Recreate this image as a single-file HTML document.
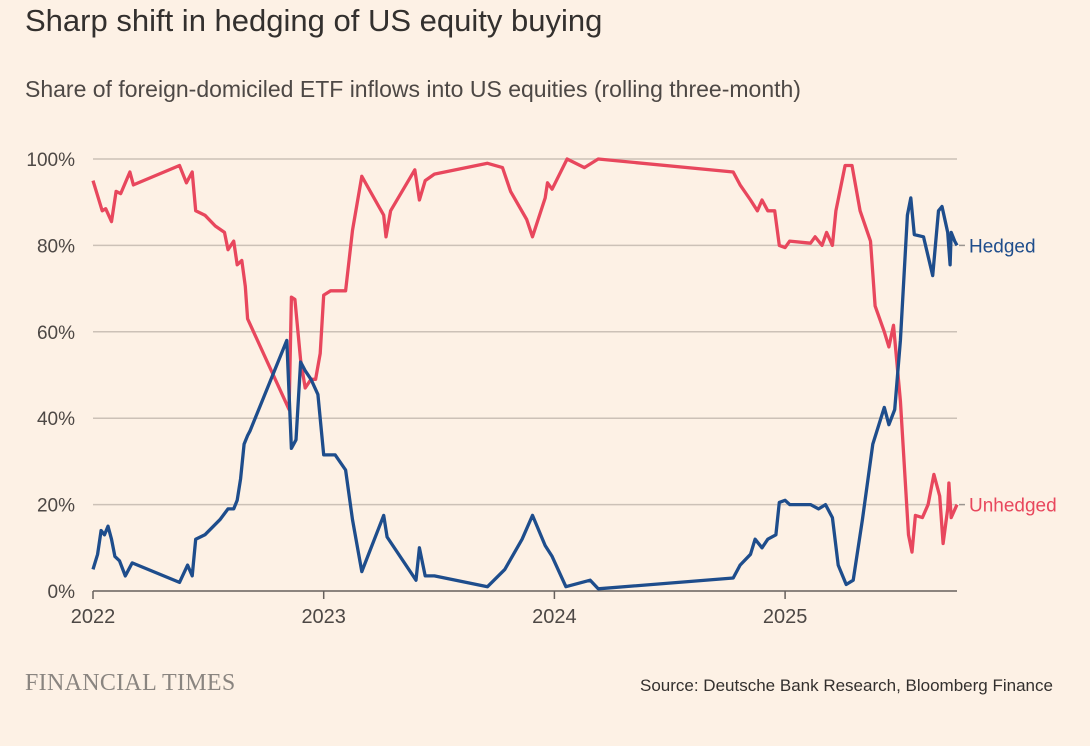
<!DOCTYPE html>
<html><head><meta charset="utf-8"><style>
html,body{margin:0;padding:0;background:#fdf1e5;}
body{width:1090px;height:746px;overflow:hidden;position:relative;font-family:"Liberation Sans",sans-serif;}
.t{position:absolute;white-space:nowrap;}
</style></head><body>
<div class="t" style="left:25px;top:3px;font-size:31px;color:#33302e;">Sharp shift in hedging of US equity buying</div>
<div class="t" style="left:25px;top:76px;font-size:23px;color:#4d4845;">Share of foreign-domiciled ETF inflows into US equities (rolling three-month)</div>
<svg id="chart" width="1090" height="746" style="position:absolute;left:0;top:0;"></svg>
<div class="t" style="left:25px;top:670px;font-size:24px;font-family:'Liberation Serif',serif;color:#8a8580;letter-spacing:0.3px;">FINANCIAL TIMES</div>
<div class="t" style="left:640px;top:676px;font-size:17px;color:#33302e;">Source: Deutsche Bank Research, Bloomberg Finance</div>
<script>
const yTicks=[0,20,40,60,80,100];
const yTickLabels=["0%","20%","40%","60%","80%","100%"];
const xTicks=[2022,2023,2024,2025];
const hedgedT=[2022.00,2022.02,2022.035,2022.05,2022.065,2022.08,2022.095,2022.115,2022.14,2022.17,2022.375,2022.41,2022.43,2022.445,2022.485,2022.55,2022.585,2022.61,2022.625,2022.64,2022.655,2022.67,2022.68,2022.84,2022.86,2022.88,2022.9,2022.92,2022.945,2022.975,2023.0,2023.05,2023.095,2023.125,2023.165,2023.26,2023.275,2023.40,2023.415,2023.44,2023.48,2023.71,2023.785,2023.86,2023.905,2023.96,2023.99,2024.05,2024.155,2024.19,2024.775,2024.805,2024.85,2024.87,2024.9,2024.925,2024.96,2024.975,2025.0,2025.02,2025.11,2025.145,2025.175,2025.205,2025.23,2025.265,2025.295,2025.335,2025.38,2025.43,2025.45,2025.475,2025.5,2025.53,2025.545,2025.56,2025.6,2025.64,2025.665,2025.68,2025.705,2025.715,2025.72,2025.735,2025.745];
const hedgedV=[5,8.5,14,13,15,12,8,7,3.5,6.5,2,6,3.5,12,13,16.5,19,19,21,26,34,36,37,58,33,35,53,51,49,45.5,31.5,31.5,28,16.5,4.5,17.5,12.5,2.5,10,3.5,3.5,1,5,12,17.5,10.5,8,1,2.5,0.5,3,6,8.5,12,10,12,13,20.5,21,20,20,19,20,17,6,1.5,2.5,16.5,34,42.5,38.5,42,58,87,91,82.5,82,73,88,89,83,75.5,83,81,80];
const unhedgedT=[2022.0,2022.02,2022.04,2022.055,2022.08,2022.1,2022.12,2022.16,2022.175,2022.375,2022.405,2022.43,2022.445,2022.485,2022.53,2022.57,2022.585,2022.61,2022.625,2022.645,2022.66,2022.67,2022.85,2022.86,2022.875,2022.9,2022.92,2022.945,2022.965,2022.985,2023.0,2023.03,2023.095,2023.125,2023.165,2023.26,2023.27,2023.29,2023.395,2023.415,2023.44,2023.48,2023.71,2023.775,2023.81,2023.88,2023.905,2023.96,2023.97,2023.99,2024.055,2024.13,2024.19,2024.775,2024.805,2024.85,2024.88,2024.9,2024.925,2024.955,2024.975,2025.0,2025.02,2025.11,2025.13,2025.16,2025.18,2025.205,2025.22,2025.26,2025.29,2025.325,2025.37,2025.39,2025.43,2025.45,2025.47,2025.5,2025.535,2025.55,2025.565,2025.595,2025.62,2025.645,2025.67,2025.685,2025.705,2025.71,2025.72,2025.745];
const unhedgedV=[95,91.5,88,88.5,85.5,92.5,92,97,94,98.5,94.5,97,88,87,84.5,83,79,81,75.5,76.5,70.5,63,42,68,67.5,53.5,47,49,49,55,68.5,69.5,69.5,83.5,96,87,82,88,97.5,90.5,95,96.5,99,98,92.5,86,82,91,94.5,93,100,98,100,97,94,90.5,88,90.5,88,88,80,79.5,81,80.5,82,80,83,80,88,98.5,98.5,88,81,66,60,56.5,61.5,44,13,9,17.5,17,20,27,22,11,19,25,17,20];

const NS="http://www.w3.org/2000/svg";
const svg=document.getElementById('chart');
const X0=93,X1=957,Y0=591,Y1=159;
const x=t=>X0+(t-2022)*230.7;
const y=v=>Y0-(v/100)*(Y0-Y1);
function mk(tag,attrs){const e=document.createElementNS(NS,tag);for(const k in attrs)e.setAttribute(k,attrs[k]);svg.appendChild(e);return e;}
yTicks.forEach((v,i)=>{
  if(v>0){const g=mk('line',{x1:X0,x2:X1,y1:y(v),y2:y(v),stroke:'#ccc1b7','stroke-width':1.5});
  
  }
  const tx=mk('text',{x:75,y:y(v)+7,'text-anchor':'end','font-size':19,fill:'#4d4845','font-family':'Liberation Sans, sans-serif'});
  tx.textContent=yTickLabels[i];
  
  
});
const ax=mk('line',{x1:X0,x2:X1,y1:Y0,y2:Y0,stroke:'#66605c','stroke-width':1.5});


xTicks.forEach(t=>{
  const tk=mk('line',{x1:x(t),x2:x(t),y1:Y0,y2:Y0+8,stroke:'#66605c','stroke-width':1.5});
  
  
  const tx=mk('text',{x:x(t),y:Y0+32,'text-anchor':'middle','font-size':20,fill:'#4d4845','font-family':'Liberation Sans, sans-serif'});
  tx.textContent=String(t);
  
  
});
function line(T,V,color,name){
  const d=T.map((t,i)=>(i?'L':'M')+x(t).toFixed(1)+','+y(V[i]).toFixed(1)).join('');
  const p=mk('path',{d:d,fill:'none',stroke:color,'stroke-width':3.3,'stroke-linejoin':'round'});
  
  
}
line(unhedgedT,unhedgedV,'#e8475d','unhedged-line');
line(hedgedT,hedgedV,'#1e4d8c','hedged-line');
function lab(T,V,color,text,name){
  const yy=y(V[V.length-1]);
  const c=mk('line',{x1:x(T[T.length-1])+2,x2:x(T[T.length-1])+8,y1:yy,y2:yy,stroke:'#9a948f','stroke-width':1.5});
  
  
  const tx=mk('text',{x:969,y:yy+7,'font-size':19,fill:color,'font-family':'Liberation Sans, sans-serif'});
  tx.textContent=text;
  
  
}
lab(hedgedT,hedgedV,'#1e4d8c','Hedged','hedged-label');
lab(unhedgedT,unhedgedV,'#e8475d','Unhedged','unhedged-label');
</script>
</body></html>
